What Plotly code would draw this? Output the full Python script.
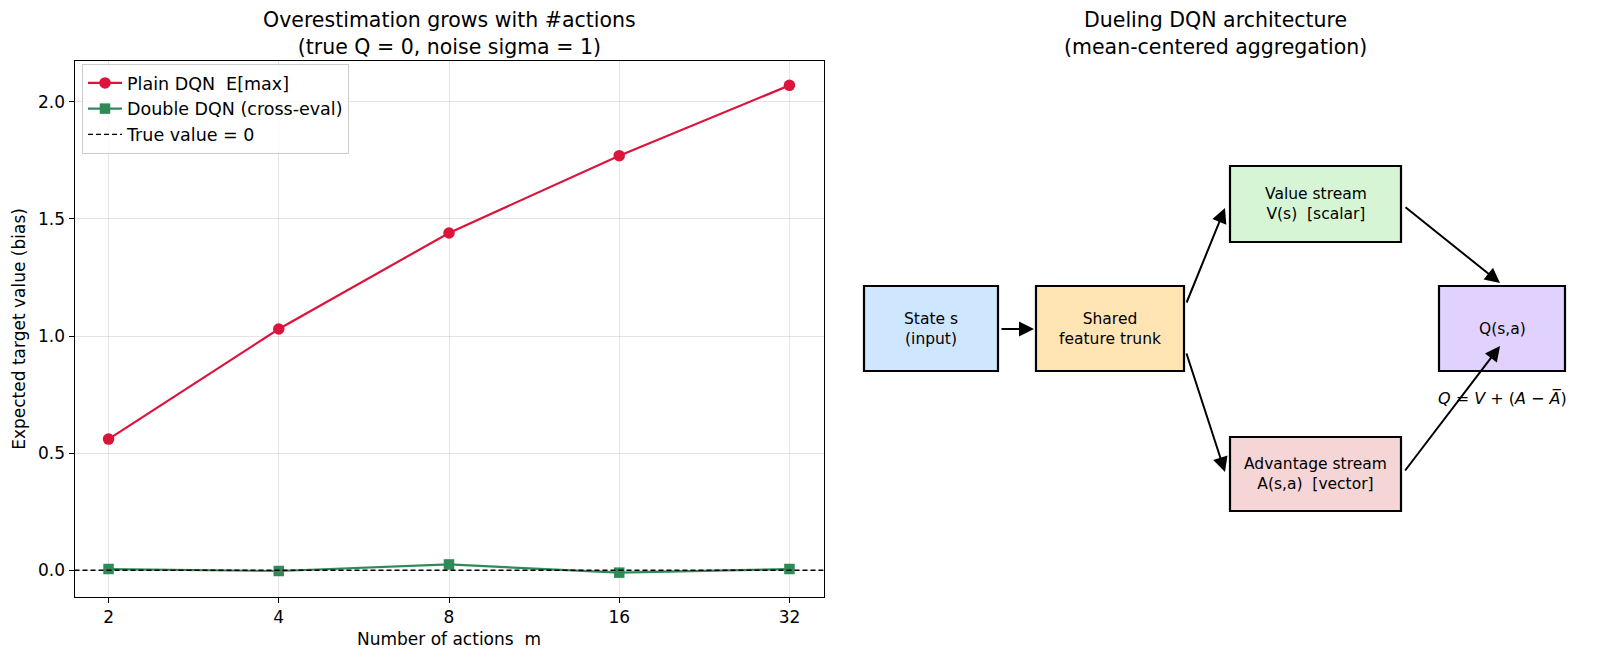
import plotly.graph_objects as go
import numpy as np

# ---------------- data ----------------
actions = [2, 4, 8, 16, 32]
plain_dqn = [0.56, 1.03, 1.44, 1.77, 2.07]
double_dqn = [0.005, -0.003, 0.025, -0.010, 0.005]
true_value = 0.0
yticks = [0.0, 0.5, 1.0, 1.5, 2.0]

# diagram (units: diagram coordinates)
box_names = ["State s<br>(input)", "Shared<br>feature trunk", "Value stream<br>V(s)\u00a0\u00a0[scalar]",
             "Advantage stream<br>A(s,a)\u00a0\u00a0[vector]", "Q(s,a)"]
box_x0 = [864, 1036, 1230, 1230, 1439]
box_x1 = [998, 1184, 1401, 1401, 1565]
box_y0 = [286, 286, 166, 437, 286]
box_y1 = [371, 371, 242, 511, 371]
box_fill = ["#cfe6ff", "#ffe5b4", "#d5f5d5", "#f5d5d5", "#e0d1ff"]
# arrows: (tail x, tail y, head x, head y)
arrow_tx = [1000, 1186, 1186, 1404, 1404]
arrow_ty = [329, 304, 352, 206, 472]
arrow_hx = [1034, 1225, 1225, 1500, 1500]
arrow_hy = [329, 208, 472, 283, 346]

FONT = "DejaVu Sans"
W, H = 1600, 663

fig = go.Figure()

lo, hi = np.log2(min(actions)), np.log2(max(actions))
pad = 0.05 * (hi - lo)
xr = [np.log10(2 ** (lo - pad)), np.log10(2 ** (hi + pad))]

fig.add_trace(go.Scatter(x=actions, y=plain_dqn, mode="lines+markers", name="Plain\u00a0DQN\u00a0\u00a0E[max]",
                         line=dict(color="#dc143c", width=2.2), marker=dict(symbol="circle", size=11.5, color="#dc143c"),
                         xaxis="x", yaxis="y"))
fig.add_trace(go.Scatter(x=actions, y=double_dqn, mode="lines+markers", name="Double\u00a0DQN\u00a0(cross-eval)",
                         line=dict(color="#2e8b57", width=2.2), marker=dict(symbol="square", size=10.5, color="#2e8b57"),
                         xaxis="x", yaxis="y"))
fig.add_trace(go.Scatter(x=[10 ** xr[0], 10 ** xr[1]], y=[true_value, true_value], mode="lines",
                         name="True\u00a0value\u00a0=\u00a00", line=dict(color="black", width=1.4, dash="5px,3px"),
                         xaxis="x", yaxis="y"))

allv = plain_dqn + double_dqn
ymin, ymax = min(allv), max(allv)
yp = 0.05 * (ymax - ymin)

ax_l, ax_r, ax_t, ax_b = 74.5, 823.5, 61, 597
fig.update_layout(
    width=W, height=H, margin=dict(l=0, r=0, t=0, b=0),
    paper_bgcolor="white", plot_bgcolor="white",
    font=dict(family=FONT, size=17, color="black"),
    showlegend=True,
    legend=dict(x=82 / W, y=1 - 64 / H, xanchor="left", yanchor="top", bgcolor="rgba(255,255,255,0.8)",
                bordercolor="#cccccc", borderwidth=1, font=dict(size=17.5, family=FONT), tracegroupgap=0,
                itemwidth=34),
    xaxis=dict(domain=[ax_l / W, ax_r / W], type="log", range=xr, tickvals=actions,
               ticktext=[str(a) for a in actions], showline=True, linecolor="black", linewidth=1, mirror=True,
               ticks="outside", ticklen=5, tickcolor="black", showgrid=True, gridcolor="rgba(0,0,0,0.1)",
               zeroline=False, tickfont=dict(size=17),
               title=dict(text="Number of actions\u00a0\u00a0m", font=dict(size=17), standoff=6),
               anchor="y"),
    yaxis=dict(domain=[1 - ax_b / H, 1 - ax_t / H], range=[ymin - yp, ymax + yp], tickvals=yticks,
               tickformat=".1f", showline=True, linecolor="black", linewidth=1, mirror=True,
               ticks="outside", ticklen=5, tickcolor="black", showgrid=True, gridcolor="rgba(0,0,0,0.1)",
               zeroline=False, tickfont=dict(size=17),
               title=dict(text="Expected target value (bias)", font=dict(size=17), standoff=8),
               anchor="x"),
    xaxis2=dict(domain=[840 / W, 1.0], range=[840, W], visible=False, anchor="y2"),
    yaxis2=dict(domain=[0, 1], range=[H, 0], visible=False, anchor="x2"),
)

# titles
fig.add_annotation(text="Overestimation grows with #actions<br>(true Q = 0, noise sigma = 1)",
                   x=(ax_l + ax_r) / 2 / W, y=1 - 6 / H, xref="paper", yref="paper", xanchor="center",
                   yanchor="top", showarrow=False, font=dict(size=20.5, family=FONT))
fig.add_annotation(text="Dueling DQN architecture<br>(mean-centered aggregation)",
                   x=1215 / W, y=1 - 6 / H, xref="paper", yref="paper", xanchor="center",
                   yanchor="top", showarrow=False, font=dict(size=20.5, family=FONT))

# boxes
for name, x0, x1, y0, y1, c in zip(box_names, box_x0, box_x1, box_y0, box_y1, box_fill):
    fig.add_shape(type="rect", x0=x0, x1=x1, y0=y0, y1=y1, xref="x2", yref="y2",
                  fillcolor=c, line=dict(color="black", width=2.2))
    fig.add_annotation(text=name, x=(x0 + x1) / 2, y=(y0 + y1) / 2, xref="x2", yref="y2",
                       showarrow=False, font=dict(size=15.5, family=FONT))

# arrows
for tx, ty, hx, hy in zip(arrow_tx, arrow_ty, arrow_hx, arrow_hy):
    fig.add_annotation(x=hx, y=hy, ax=tx, ay=ty, xref="x2", yref="y2", axref="x2", ayref="y2",
                       text="", showarrow=True, arrowhead=2, arrowsize=1.5, arrowwidth=2, arrowcolor="black")

fig.add_annotation(text="<i>Q</i> = <i>V</i> + (<i>A</i> \u2212 <i>A\u0305</i>)", x=1502, y=398, xref="x2", yref="y2",
                   showarrow=False, font=dict(size=16, family=FONT))

fig.write_html("out.html")
